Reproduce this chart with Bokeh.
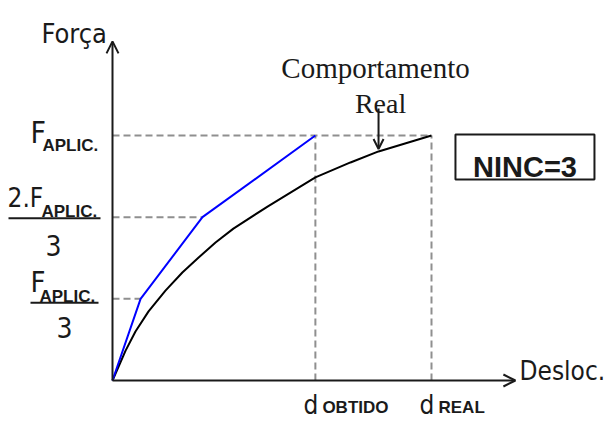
from bokeh.plotting import figure
from bokeh.models import Range1d, Arrow, OpenHead
from bokeh.core.properties import value
from bokeh.embed import file_html
from bokeh.resources import INLINE

# ---------------- data ----------------
# force expressed as a fraction of F_APLIC, displacement as a fraction of d_REAL
F_LEVELS = [1 / 3, 2 / 3, 1.0]
D_OBTIDO = 0.636
D_REAL = 1.0

# real (nonlinear) behaviour
real_d = [0.0, 0.041, 0.072, 0.113, 0.166, 0.219, 0.270, 0.323, 0.379, 0.486, 0.636, 0.746, 0.834, 1.0]
real_F = [0.0, 0.122, 0.200, 0.282, 0.367, 0.441, 0.502, 0.563, 0.620, 0.710, 0.829, 0.890, 0.935, 1.0]

# incremental solution, NINC = 3
incr_d = [0.0, 0.088, 0.282, D_OBTIDO]
incr_F = [0.0, 1 / 3, 2 / 3, 1.0]

y_tick_main = ["F", "2.F", "F"]
y_tick_sub = ["APLIC.", "APLIC.", "APLIC."]
y_tick_den = ["3", "3", ""]
x_tick_pos = [D_OBTIDO, D_REAL]
x_tick_main = ["d", "d"]
x_tick_sub = ["OBTIDO", "REAL"]
y_title = "Força"
x_title = "Desloc."
note_lines = ["Comportamento", "Real"]
ninc_text = "NINC=3"

# ---------------- layout / style ----------------
W, H = 606, 421
OX, OY = 112, 380          # origin on the canvas (px)
SX, SY = 319.0, 245.0      # px per data unit
X_AXIS_END = 1.263
Y_AXIS_END = 1.384
ARROW_D, ARROW_TOP, ARROW_TIP = 0.834, 1.110, 0.945
BOX_X, BOX_Y = 1.293, 0.912

SANS_N = "Liberation Sans Narrow, DejaVu Sans Condensed, sans-serif"
SANS = "Liberation Sans"
SERIF = "Liberation Serif"
INK = "#1a1a1a"
DASH = "#8f8f8f"

p = figure(width=W, height=H, output_backend="svg", toolbar_location=None,
           x_range=Range1d(-OX / SX, (W - OX) / SX),
           y_range=Range1d(-(H - OY) / SY, OY / SY),
           x_axis_location=None, y_axis_location=None,
           min_border=0, outline_line_color=None, background_fill_color="white",
           border_fill_color="white")
p.grid.visible = False


def label(x, y, txt, dx, dy, size, font=SANS_N, style="normal", align="left"):
    p.text(x=[x], y=[y], text=[txt], x_offset=dx, y_offset=dy,
           text_font=value(font), text_font_size=f"{size}px", text_font_style=style,
           text_align=align, text_baseline="alphabetic", text_color=INK)


def px_hline(x, y, dx0, dx1, dy, **kw):
    p.segment(x0=[x + dx0 / SX], y0=[y - dy / SY], x1=[x + dx1 / SX], y1=[y - dy / SY], **kw)


# dashed guide lines
dash_kw = dict(line_color=DASH, line_width=2, line_dash="7 4")
p.segment(x0=[0, 0, 0], y0=F_LEVELS, x1=[incr_d[1], incr_d[2], D_REAL], y1=F_LEVELS, **dash_kw)
p.segment(x0=x_tick_pos, y0=[0, 0], x1=x_tick_pos, y1=[1.0, 1.0], **dash_kw)

# curves
p.line(real_d, real_F, line_color="#000000", line_width=2)
p.line(incr_d, incr_F, line_color="#0000ff", line_width=2)

# axes with open arrow heads
p.add_layout(Arrow(x_start=0, y_start=0, x_end=X_AXIS_END, y_end=0, line_color=INK, line_width=2,
                   end=OpenHead(size=12, line_width=2, line_color=INK)))
p.add_layout(Arrow(x_start=0, y_start=0, x_end=0, y_end=Y_AXIS_END, line_color=INK, line_width=2,
                   end=OpenHead(size=12, line_width=2, line_color=INK)))

# y tick labels (fractions with subscripts)
# level 1/3
lv = F_LEVELS[0]
label(0, lv, y_tick_main[0], -82, -17, 29)
label(0, lv, y_tick_sub[0], -73, -2, 17, font=SANS, style="bold")
px_hline(0, lv, -82, -14, 4, line_color=INK, line_width=2)
label(0, lv, y_tick_den[0], -48, 29, 28, align="center")
# level 2/3
lv = F_LEVELS[1]
label(0, lv, y_tick_main[1], -105, -19, 26)
label(0, lv, y_tick_sub[1], -71, -6, 17, font=SANS, style="bold")
px_hline(0, lv, -104, -12, 1, line_color=INK, line_width=2)
label(0, lv, y_tick_den[1], -59, 28, 28, align="center")
# level 1
lv = F_LEVELS[2]
label(0, lv, y_tick_main[2], -82, -3, 30)
label(0, lv, y_tick_sub[2], -70, 10, 17, font=SANS, style="bold")

# axis titles
label(0, 1.0, y_title, -71, -102, 27)
label(D_REAL, 0, x_title, 88, -10, 26)

# x tick labels
for xv, m, s in zip(x_tick_pos, x_tick_main, x_tick_sub):
    label(xv, 0, m, -12, 24, 26)
    label(xv, 0, s, 7, 27, 17, font=SANS, style="bold")

# "Comportamento Real" note with arrow
label(ARROW_D, ARROW_TOP, note_lines[0], -3, -41, 29, font=SERIF, align="center")
label(ARROW_D, ARROW_TOP, note_lines[1], 2, -5, 28, font=SERIF, align="center")
p.add_layout(Arrow(x_start=ARROW_D, y_start=ARROW_TOP, x_end=ARROW_D, y_end=ARROW_TIP,
                   line_color=INK, line_width=2,
                   end=OpenHead(size=10, line_width=2, line_color=INK)))

# NINC box
p.rect(x=[BOX_X], y=[BOX_Y], width=139, height=45, width_units="screen", height_units="screen",
       fill_color="white", line_color=INK, line_width=2)
label(BOX_X, BOX_Y, ninc_text, 0, 10, 29, font=SANS, style="bold", align="center")

open("out.html", "w").write(file_html(p, INLINE))
